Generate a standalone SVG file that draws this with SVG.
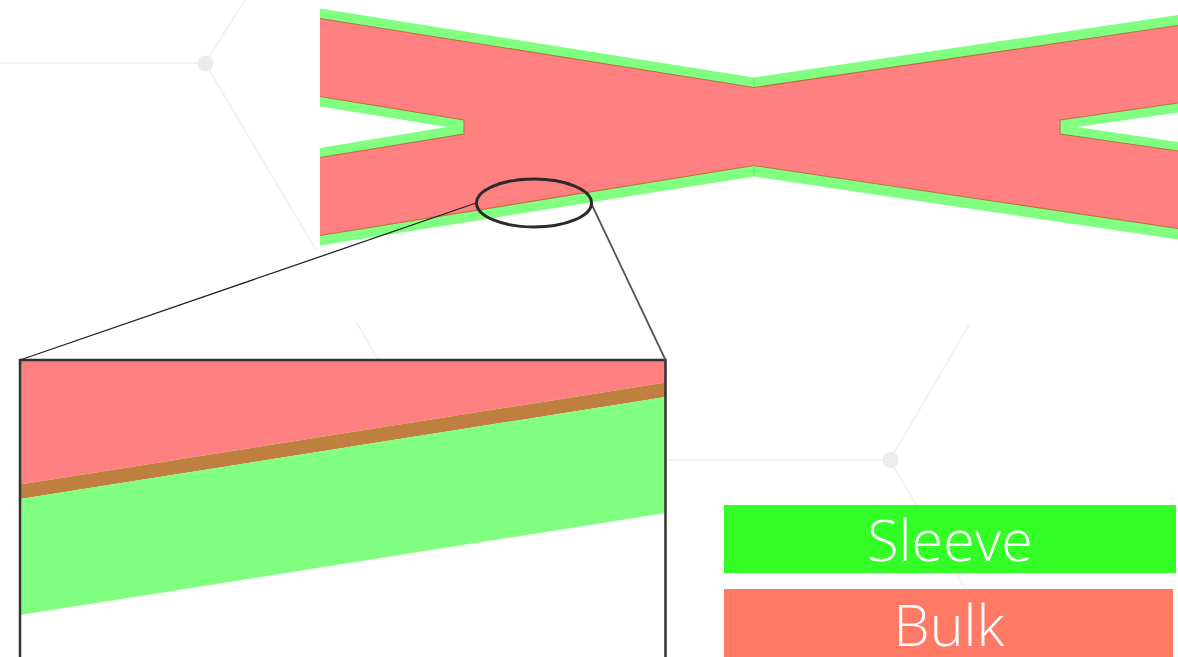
<svg xmlns="http://www.w3.org/2000/svg" width="1178" height="657" viewBox="0 0 1178 657">
<style>
.bg{fill:none;stroke:#f2f2f2;stroke-width:2}
.dot{fill:#ececec}
.sleeve{fill:#80ff80}
.hole{fill:#fff}
.bulk{fill:#ff8080}
.edge{fill:none;stroke:#bf703f;stroke-width:1.100}
.seam{fill:none;stroke:#50f550;stroke-width:1}
.lab{font-family:"Open Sans","Liberation Sans",sans-serif;font-weight:300;font-size:57.500px;fill:#fff;text-anchor:middle}
</style>
<rect width="1178" height="657" fill="#fff"/>
<g id="background">
<path class="bg" d="M245 0L205 63L0 63M205 63L316 250M357 323L378 360M969 325L890 460L666 460M890 460L966 590"/>
<circle class="dot" cx="205.500" cy="63.500" r="8"/>
<circle class="dot" cx="890.500" cy="460" r="8"/>
</g>
<g id="geometry">
<path class="sleeve" d="M320 8.500L754 77.500L1178 15V239.500L754 176.500L320 245.500V148L447 127L320 106.500Z"/>
<path class="hole" d="M1178 112.500L1077 127L1178 142Z"/>
<path class="bulk" d="M320 18.500L754 87.500L1178 25.500V103L1060 120V134L1178 151V228.500L754 165.500L320 235.500V157.500L464 134V120L320 96.500Z"/>
<path class="edge" d="M320 18.500L754 87.500L1178 25.500M1178 103L1060 120V134L1178 151M1178 228.500L754 165.500L320 235.500M320 157.500L464 134V120L320 96.500"/>
<path class="seam" d="M754 167V176M754 78V86"/>
</g>
<g id="inset">
<rect x="20" y="360" width="645.500" height="300" fill="#fff"/>
<path class="bulk" d="M20 360H665.500V382.500L20 484.500Z"/>
<path fill="#bf803f" d="M20 484.500L665.500 382.500V397L20 499Z"/>
<path class="sleeve" d="M20 499L665.500 397V513L20 615Z"/>
<path fill="none" stroke="#333" stroke-width="2.500" d="M20 660V360H665.500V660"/>
</g>
<g id="connectors">
<path fill="none" stroke="#222" stroke-width="1.300" d="M476 203L20 360"/>
<path fill="none" stroke="#555" stroke-width="1.800" d="M592 205L665.500 360"/>
<ellipse cx="534" cy="203" rx="57.500" ry="24" fill="none" stroke="#2b2b2b" stroke-width="3"/>
</g>
<g id="sleeve-label">
<rect x="724" y="505" width="452" height="68" fill="#33ff26"/>
<text class="lab" x="950" y="560.500">Sleeve</text>
</g>
<g id="bulk-label">
<rect x="724" y="589" width="449" height="68" fill="#ff7964"/>
<text class="lab" x="949" y="646">Bulk</text>
</g>
</svg>
